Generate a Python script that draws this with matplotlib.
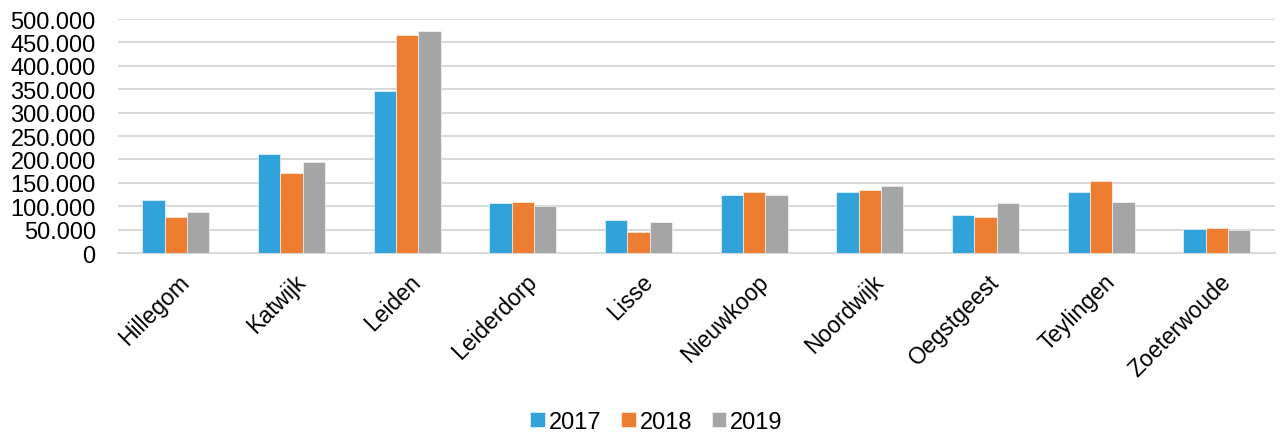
import matplotlib
matplotlib.use("Agg")
import matplotlib.pyplot as plt
import numpy as np

categories = ["Hillegom", "Katwijk", "Leiden", "Leiderdorp", "Lisse",
              "Nieuwkoop", "Noordwijk", "Oegstgeest", "Teylingen", "Zoeterwoude"]
v2017 = [113000, 212000, 346000, 107000, 70500, 125000, 131000, 82000, 131000, 51000]
v2018 = [76000, 172000, 465000, 109000, 44000, 130000, 135000, 77000, 154000, 53000]
v2019 = [88000, 194500, 474000, 100000, 66000, 123000, 143000, 106000, 109000, 48500]
series_names = ["2017", "2018", "2019"]
colors = ["#32A2DA", "#ED7D31", "#A5A5A5"]
yticks = [0, 50000, 100000, 150000, 200000, 250000, 300000, 350000, 400000, 450000, 500000]

plt.rcParams['font.family'] = ['Liberation Sans', 'DejaVu Sans']

fig = plt.figure(figsize=(12.85, 4.39), dpi=100)
ax = fig.add_axes([0.0918, 0.4214, 0.9002, 0.5330])

x = np.arange(len(categories))
w = 0.193
for i, (vals, name, c) in enumerate(zip([v2017, v2018, v2019], series_names, colors)):
    ax.bar(x + (i - 1) * w, vals, width=w, color=c, label=name, zorder=3,
           edgecolor='white', linewidth=0.4)

ax.set_xlim(-0.5, len(categories) - 0.5)
ax.set_ylim(0, 500000)
ax.set_yticks(yticks)
ax.set_yticklabels([f"{v:,}".replace(",", ".") for v in yticks], fontsize=17, color='#000000')
ax.yaxis.grid(True, color='#D9D9D9', linewidth=1.5, zorder=0)
ax.set_axisbelow(True)
for s in ['top', 'right', 'left']:
    ax.spines[s].set_visible(False)
ax.spines['bottom'].set_color('#D9D9D9')
ax.spines['bottom'].set_linewidth(1.5)
ax.tick_params(axis='both', length=0)
ax.tick_params(axis='y', pad=16)

ax.set_xticks(x + 0.02)
ax.set_xticklabels(categories, rotation=45, ha='right', rotation_mode='anchor',
                   fontsize=16.5, color='#000000')
ax.tick_params(axis='x', pad=12)

leg = fig.legend(loc='center', bbox_to_anchor=(0.511, 0.036), ncol=3, frameon=False,
                 fontsize=17, handlelength=0.6, handleheight=0.6,
                 handletextpad=0.17, columnspacing=0.85)

fig.savefig("out.png", dpi=100)
